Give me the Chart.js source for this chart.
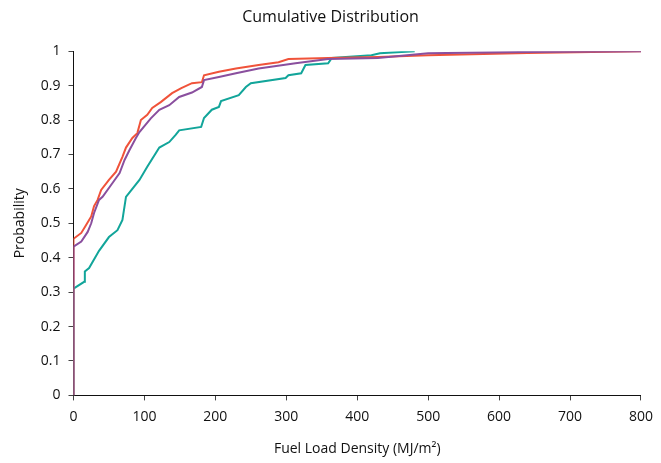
<!DOCTYPE html>
<html>
<head>
<meta charset="utf-8">
<script src="https://cdn.jsdelivr.net/npm/chart.js@4.4.1/dist/chart.umd.min.js"></script>
<style>
  html, body { margin: 0; padding: 0; background: #fff; }
  #wrap { width: 661px; height: 463px; }
</style>
</head>
<body>
<div id="wrap"><canvas id="cdf"></canvas></div>
<script>
// fuel load density (MJ/m²) and cumulative probability per curve
const purpleX = [0, 0, 11, 20, 25, 29, 36, 41, 55, 65, 72, 79, 88, 93, 109, 121, 135, 149, 167, 181, 184, 205, 229, 261, 313, 359, 429, 500, 640, 800];
const purpleY = [0, 0.432, 0.447, 0.475, 0.50, 0.53, 0.568, 0.577, 0.617, 0.646, 0.684, 0.713, 0.748, 0.765, 0.805, 0.83, 0.843, 0.867, 0.88, 0.896, 0.916, 0.925, 0.936, 0.95, 0.965, 0.977, 0.98, 0.994, 0.998, 1.0];

const redX = [0, 0, 11, 18, 25, 29, 34, 39, 50, 60, 69, 74, 83, 90, 95, 104, 111, 123, 139, 152, 167, 181, 184, 205, 229, 261, 289, 303, 359, 429, 500, 640, 800];
const redY = [0, 0.455, 0.472, 0.496, 0.52, 0.55, 0.568, 0.597, 0.626, 0.65, 0.693, 0.72, 0.748, 0.762, 0.80, 0.815, 0.835, 0.852, 0.878, 0.893, 0.907, 0.91, 0.93, 0.94, 0.95, 0.96, 0.968, 0.977, 0.98, 0.983, 0.988, 0.995, 1.0];

const tealX = [0, 0, 15, 16, 22, 36, 50, 62, 69, 74, 93, 104, 121, 135, 144, 149, 180, 184, 195, 205, 208, 233, 243, 250, 299, 303, 321, 327, 359, 364, 420, 432, 481];
const tealY = [0, 0.31, 0.33, 0.36, 0.37, 0.42, 0.46, 0.48, 0.51, 0.577, 0.626, 0.664, 0.72, 0.736, 0.757, 0.77, 0.78, 0.806, 0.83, 0.838, 0.855, 0.872, 0.896, 0.907, 0.922, 0.93, 0.936, 0.96, 0.965, 0.98, 0.988, 0.994, 1.0];

const xTicks = [0, 100, 200, 300, 400, 500, 600, 700, 800];

const toPoints = (xs, ys) => xs.map((x, i) => ({ x: x, y: ys[i] }));

const FONT = "'Open Sans', 'DejaVu Sans', sans-serif";
Chart.defaults.font.family = FONT;
Chart.defaults.color = "#222";

const axisGrid = {
  display: true,
  drawOnChartArea: false,
  drawTicks: true,
  tickLength: 5,
  color: "#444"
};

new Chart(document.getElementById("cdf"), {
  type: "line",
  data: {
    datasets: [
      { label: "Purple", data: toPoints(purpleX, purpleY), borderColor: "#8a4f9e" },
      { label: "Red", data: toPoints(redX, redY), borderColor: "#f0533a" },
      { label: "Teal", data: toPoints(tealX, tealY), borderColor: "#12a59a" }
    ].map((d) => ({
      ...d,
      borderWidth: 2,
      pointRadius: 0,
      tension: 0,
      fill: false
    }))
  },
  options: {
    responsive: true,
    maintainAspectRatio: false,
    animation: false,
    layout: { padding: { top: 4, right: 8, bottom: 2, left: 8 } },
    plugins: {
      legend: { display: false },
      tooltip: { enabled: false },
      title: {
        display: true,
        text: "Cumulative Distribution",
        color: "#111",
        font: { size: 16, weight: "normal" },
        padding: { top: 4, bottom: 24 }
      }
    },
    scales: {
      x: {
        type: "linear",
        min: 0,
        max: 800,
        afterBuildTicks: (axis) => {
          axis.ticks = xTicks.map((v) => ({ value: v }));
        },
        grid: axisGrid,
        border: { display: true, color: "#111", width: 1 },
        ticks: { color: "#111", font: { size: 14 }, padding: 8, maxRotation: 0 },
        title: {
          display: true,
          text: "Fuel Load Density (MJ/m²)",
          color: "#111",
          font: { size: 14 },
          padding: { top: 7 }
        }
      },
      y: {
        min: 0,
        max: 1,
        ticks: {
          stepSize: 0.1,
          color: "#111",
          font: { size: 14 },
          padding: 8,
          callback: (v) => String(Math.round(v * 10) / 10)
        },
        grid: axisGrid,
        border: { display: true, color: "#111", width: 1 },
        title: {
          display: true,
          text: "Probability",
          color: "#111",
          font: { size: 14 },
          padding: { bottom: 4 }
        }
      }
    }
  }
});
</script>
</body>
</html>
